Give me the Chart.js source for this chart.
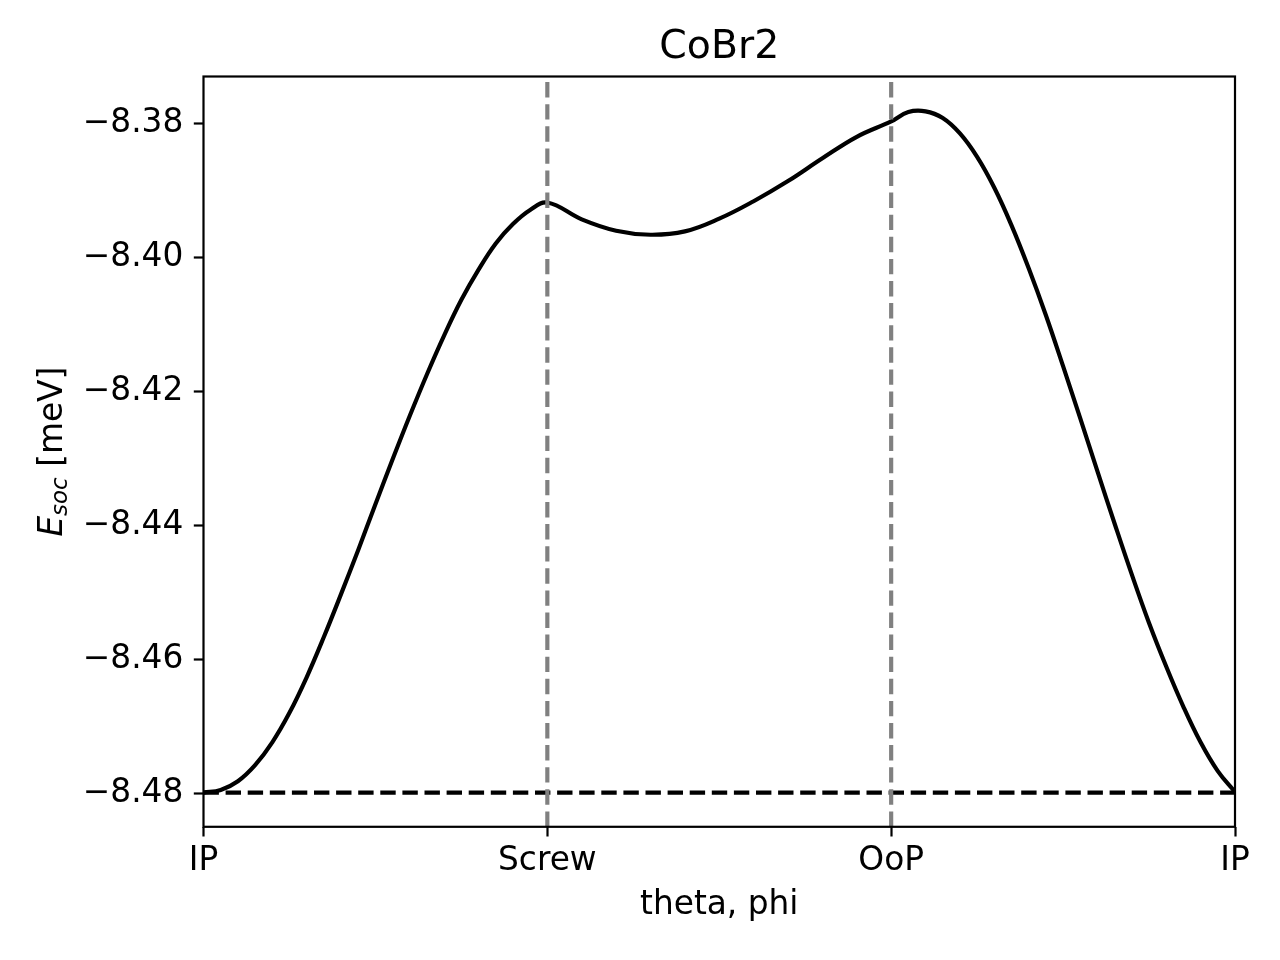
<!DOCTYPE html>
<html>
<head>
<meta charset="utf-8">
<script src="https://cdn.jsdelivr.net/npm/chart.js@4.4.1/dist/chart.umd.min.js"></script>
<style>
  html, body { margin: 0; padding: 0; background: #fff; }
  #wrap { width: 1280px; height: 960px; }
</style>
</head>
<body>
<div id="wrap"><canvas id="c" width="1280" height="960"></canvas></div>
<script>
// ---- data ----
const titleText = 'CoBr2';
const xAxisTitle = 'theta, phi';
const xTickLabels = ['IP', 'Screw', 'OoP', 'IP'];
const xTickValues = [0, 1, 2, 3];

const thetaPhi = [
  0.00, 0.05, 0.10, 0.15, 0.20, 0.25, 0.30, 0.35, 0.40, 0.45, 0.50,
  0.55, 0.60, 0.65, 0.70, 0.75, 0.80, 0.85, 0.90, 0.95, 1.00,
  1.10, 1.20, 1.30, 1.40, 1.50, 1.60, 1.70, 1.80, 1.90, 2.00,
  2.05, 2.10, 2.15, 2.20, 2.25, 2.30, 2.35, 2.40, 2.45, 2.50,
  2.55, 2.60, 2.65, 2.70, 2.75, 2.80, 2.85, 2.90, 2.95, 3.00
];
const eSoc = [
  -8.4798, -8.4794, -8.4781, -8.4757, -8.4723, -8.4679, -8.4626, -8.4566, -8.4502, -8.4436, -8.4368,
  -8.4301, -8.4236, -8.4174, -8.4116, -8.4063, -8.4018, -8.3979, -8.3950, -8.3929, -8.3918,
  -8.3943, -8.3960, -8.3966, -8.3961, -8.3942, -8.3916, -8.3886, -8.3852, -8.3820, -8.3797,
  -8.3783, -8.3782, -8.3792, -8.3815, -8.3850, -8.3896, -8.3952, -8.4016, -8.4086, -8.4162,
  -8.4240, -8.4319, -8.4397, -8.4473, -8.4545, -8.4610, -8.4670, -8.4723, -8.4766, -8.4797
];
const referenceLevel = -8.4798;      // horizontal dashed line (IP energy)
const markerPositions = [1, 2];      // vertical dashed lines (Screw, OoP)
const yMin = -8.4849, yMax = -8.3730, yStep = 0.02;
const xMin = 0, xMax = 3;

// ---- styling ----
const FONT = 'DejaVu Sans';
const TICK_PX = 32.8;
const TITLE_PX = 39.4;
const LW = 4.17;
const DASH = [15.4, 6.7];

const curveData = thetaPhi.map((x, i) => ({ x: x, y: eSoc[i] }));
const vlineSets = markerPositions.map(p => ({
  data: [{ x: p, y: yMin }, { x: p, y: yMax }],
  borderColor: '#808080', borderWidth: LW, borderDash: DASH,
  pointRadius: 0, order: 1, tension: 0
}));
const hline = {
  data: [{ x: xMin, y: referenceLevel }, { x: xMax, y: referenceLevel }],
  borderColor: '#000000', borderWidth: LW, borderDash: DASH,
  pointRadius: 0, order: 1, tension: 0
};

const framePlugin = {
  id: 'frameAndTitles',
  afterDatasetsDraw(chart) {
    const { ctx, chartArea: a } = chart;
    ctx.save();
    ctx.strokeStyle = '#000';
    ctx.lineWidth = 2.2;
    ctx.strokeRect(a.left, a.top, a.right - a.left, a.bottom - a.top);
    ctx.restore();
  },
  afterDraw(chart) {
    const { ctx, chartArea: a } = chart;
    // chart title, centred over the plot area
    ctx.save();
    ctx.fillStyle = '#000';
    ctx.font = TITLE_PX + 'px "' + FONT + '"';
    ctx.textAlign = 'center';
    ctx.textBaseline = 'alphabetic';
    ctx.fillText(titleText, (a.left + a.right) / 2, 58.3);
    ctx.restore();

    // y axis title: E_soc [meV] (mathtext style)
    const parts = [
      { t: 'E', f: 'italic ' + TICK_PX + 'px "' + FONT + '"', dy: 0 },
      { t: 'soc', f: 'italic ' + (TICK_PX * 0.7).toFixed(2) + 'px "' + FONT + '"', dy: 5 },
      { t: ' [meV]', f: TICK_PX + 'px "' + FONT + '"', dy: 0 }
    ];
    ctx.save();
    let total = 0;
    parts.forEach(p => { ctx.font = p.f; p.w = ctx.measureText(p.t).width; total += p.w; });
    ctx.translate(62, (a.top + a.bottom) / 2);
    ctx.rotate(-Math.PI / 2);
    ctx.fillStyle = '#000';
    ctx.textBaseline = 'alphabetic';
    ctx.textAlign = 'left';
    let x = -total / 2;
    parts.forEach(p => { ctx.font = p.f; ctx.fillText(p.t, x, p.dy); x += p.w; });
    ctx.restore();
  }
};

Chart.defaults.color = '#000';
Chart.defaults.font.family = FONT;

new Chart(document.getElementById('c'), {
  type: 'line',
  data: {
    datasets: [
      {
        label: 'E_soc',
        data: curveData,
        borderColor: '#000000', borderWidth: LW,
        pointRadius: 0, tension: 0.4, order: 3
      },
      ...vlineSets,
      hline
    ]
  },
  options: {
    responsive: false,
    devicePixelRatio: 1,
    animation: false,
    events: [],
    layout: { padding: { top: 76.5, right: 45, bottom: 0, left: 0 } },
    plugins: {
      legend: { display: false },
      tooltip: { enabled: false },
      title: { display: false }
    },
    scales: {
      x: {
        type: 'linear',
        min: xMin, max: xMax,
        afterFit(s) { s.height = 133.2; },
        afterBuildTicks(s) { s.ticks = xTickValues.map(v => ({ value: v })); },
        ticks: {
          stepSize: 1,
          maxRotation: 0, minRotation: 0, autoSkip: false,
          color: '#000',
          padding: 5.2,
          font: { family: FONT, size: TICK_PX },
          callback: (v) => xTickLabels[xTickValues.indexOf(v)]
        },
        grid: { drawOnChartArea: false, drawTicks: true, tickLength: 9.7, tickWidth: 2.2, tickColor: '#000' },
        border: { display: false },
        title: {
          display: true,
          text: xAxisTitle,
          color: '#000',
          font: { family: FONT, size: TICK_PX, weight: 'normal' },
          padding: { top: 0, bottom: 34.65 }
        }
      },
      y: {
        type: 'linear',
        min: yMin, max: yMax,
        afterFit(s) { s.width = 203.5; },
        ticks: {
          stepSize: yStep,
          includeBounds: false,
          color: '#000',
          padding: 10.5,
          font: { family: FONT, size: TICK_PX },
          callback: (v) => v.toFixed(2).replace('-', '\u2212')
        },
        grid: { drawOnChartArea: false, drawTicks: true, tickLength: 9.7, tickWidth: 2.2, tickColor: '#000' },
        border: { display: false }
      }
    }
  },
  plugins: [framePlugin]
});
</script>
</body>
</html>
